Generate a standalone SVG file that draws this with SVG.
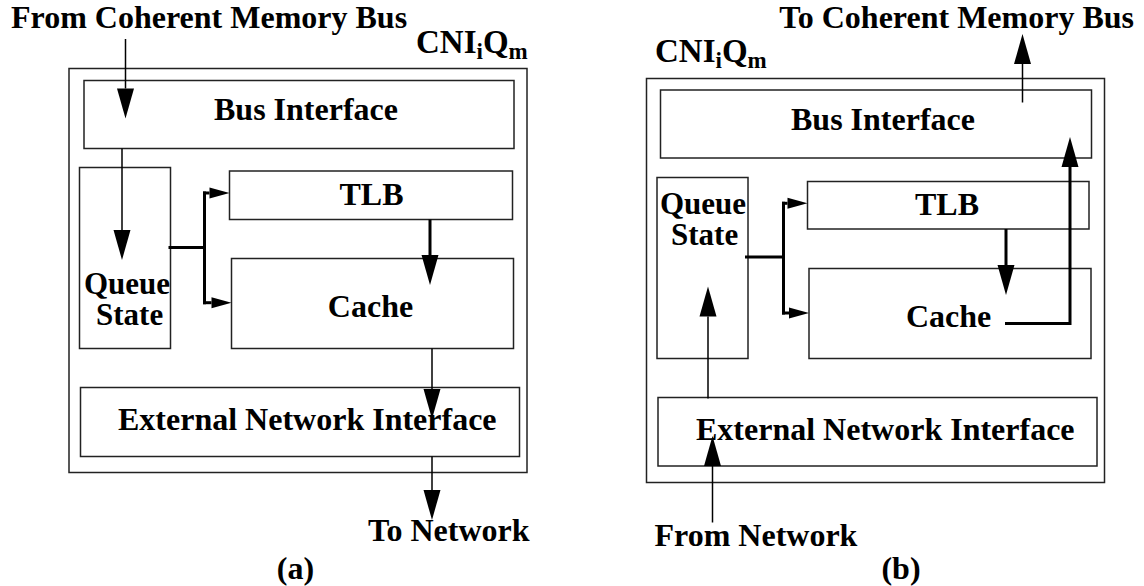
<svg xmlns="http://www.w3.org/2000/svg" width="1144" height="586" viewBox="0 0 1144 586">
<style>
.box{fill:none;stroke:#222;stroke-width:1.5}
.t{font-family:"Liberation Serif","Times New Roman",serif;font-weight:bold;font-size:32px;fill:#000}
.q{font-size:31px}
.lab{font-size:33px}
.mid{text-anchor:middle}
.end{text-anchor:end}
.thin{fill:none;stroke:#000;stroke-width:1.5}
.thick{fill:none;stroke:#000;stroke-width:3}
.big{marker-end:url(#big)}
.small{marker-end:url(#small)}
</style>
<defs>
<marker id="big" markerUnits="userSpaceOnUse" markerWidth="30" markerHeight="17" refX="0" refY="8.5" orient="auto" overflow="visible">
<path d="M0,0 L30,8.5 L0,17 z" fill="#000"/>
</marker>
<marker id="small" markerUnits="userSpaceOnUse" markerWidth="20" markerHeight="11" refX="0" refY="5.5" orient="auto" overflow="visible">
<path d="M0,0 L20,5.5 L0,11 z" fill="#000"/>
</marker>
</defs>

<!-- Panel (a) -->
<g id="a-outer">
<rect class="box" x="69" y="68.5" width="458" height="404"/>
<text class="t lab" x="416" y="53">CNI<tspan font-size="23" dy="6">i</tspan><tspan dy="-6">Q</tspan><tspan font-size="23" dy="6">m</tspan></text>
</g>
<g id="a-bus">
<rect class="box" x="84" y="80.5" width="430" height="68"/>
<text class="t mid" x="306" y="120">Bus Interface</text>
</g>
<g id="a-queue">
<rect class="box" x="79.5" y="167.5" width="91" height="181"/>
<text class="t q" x="84" y="294">Queue</text>
<text class="t q" x="96" y="325">State</text>
</g>
<g id="a-tlb">
<rect class="box" x="229.5" y="171" width="283" height="48.5"/>
<text class="t mid" x="371.5" y="205">TLB</text>
</g>
<g id="a-cache">
<rect class="box" x="231.5" y="258.5" width="282" height="90"/>
<text class="t mid" x="370.5" y="316.5">Cache</text>
</g>
<g id="a-eni">
<rect class="box" x="80.5" y="387.5" width="439" height="69"/>
<text class="t" x="118" y="429.5">External Network Interface</text>
</g>
<g id="a-labels">
<text class="t" x="11" y="28">From Coherent Memory Bus</text>
<text class="t" x="368" y="541">To Network</text>
<text class="t mid" x="295.5" y="579">(a)</text>
</g>

<!-- Panel (b) -->
<g id="b-outer">
<rect class="box" x="646.5" y="78.5" width="458" height="404"/>
<text class="t lab" x="655" y="62">CNI<tspan font-size="23" dy="6">i</tspan><tspan dy="-6">Q</tspan><tspan font-size="23" dy="6">m</tspan></text>
</g>
<g id="b-bus">
<rect class="box" x="660.5" y="90" width="431" height="68"/>
<text class="t mid" x="883" y="129.5">Bus Interface</text>
</g>
<g id="b-queue">
<rect class="box" x="657" y="177.5" width="91" height="181"/>
<text class="t q" x="660" y="213.5">Queue</text>
<text class="t q" x="671" y="244.5">State</text>
</g>
<g id="b-tlb">
<rect class="box" x="807.5" y="181.5" width="281.5" height="47.5"/>
<text class="t mid" x="947" y="214.5">TLB</text>
</g>
<g id="b-cache">
<rect class="box" x="809" y="268.5" width="282" height="90"/>
<text class="t" x="906" y="326.5">Cache</text>
</g>
<g id="b-eni">
<rect class="box" x="658" y="397.5" width="439" height="68.5"/>
<text class="t" x="696" y="439.5">External Network Interface</text>
</g>
<g id="b-labels">
<text class="t end" x="1134" y="28">To Coherent Memory Bus</text>
<text class="t" x="654.5" y="546">From Network</text>
<text class="t mid" x="901" y="579">(b)</text>
</g>

<g id="connectors">
<!-- (a) -->
<path class="thin big" d="M125.5,39 V88.5"/>
<path class="thin big" d="M122,148.5 V230"/>
<path class="thick" d="M168.5,247.5 H204.5 M204.5,191.5 V304.2"/>
<path class="thick small" d="M203,193 H209.5"/>
<path class="thick small" d="M203,302.7 H211.5"/>
<path class="thick big" d="M430,219.5 V255"/>
<path class="thin big" d="M432,348.5 V389"/>
<path class="thin big" d="M432,456.5 V490"/>
<!-- (b) -->
<path class="thin big" d="M1022.5,102.5 V64"/>
<path class="thick big" d="M1005,323.5 H1070 V167"/>
<path class="thick big" d="M1006,229 V265"/>
<path class="thick" d="M745,257 H783.5 M783.5,201.8 V314.5"/>
<path class="thick small" d="M782,203.3 H787.5"/>
<path class="thick small" d="M782,313 H789"/>
<path class="thin big" d="M712.5,522.5 V466"/>
<path class="thin big" d="M708,398.5 V316.5"/>
</g>
</svg>
